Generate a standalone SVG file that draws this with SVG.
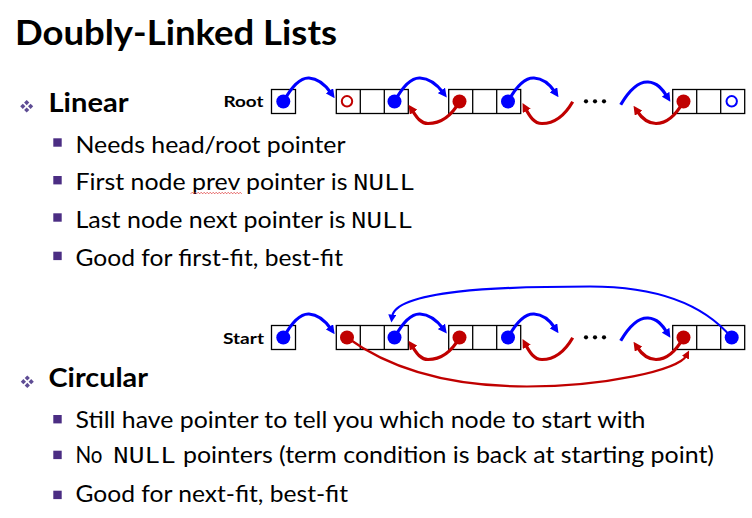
<svg xmlns="http://www.w3.org/2000/svg" width="752" height="518" viewBox="0 0 752 518">
  <style>
    .title { font-family: Lato, "Open Sans", sans-serif; font-weight: 700; font-size: 34px; fill: #000; }
    .head { font-family: Lato, "Open Sans", sans-serif; font-weight: 700; font-size: 26px; fill: #000; }
    .item { font-family: Lato, "Open Sans", sans-serif; font-size: 24px; fill: #000; }
    .mono { font-family: "Liberation Mono", "DejaVu Sans Mono", monospace; font-size: 24px; fill: #000; }
    .lbl { font-family: Lato, "Open Sans", sans-serif; font-weight: 700; font-size: 16px; fill: #000; }
    .cell { fill: #fff; stroke: #000; stroke-width: 1.3; }
    .bdot { fill: #0000ff; }
    .rdot { fill: #c00000; }
    .bring { fill: none; stroke: #0000ff; stroke-width: 2; }
    .rring { fill: none; stroke: #c00000; stroke-width: 2; }
    .sq { fill: #4b2d83; }
    .dia { fill: #5e4c94; }
    .ell { fill: #000; }
    .nextArc { fill: none; stroke: #0000ff; stroke-width: 3.2; marker-end: url(#ahBlue); }
    .prevArc { fill: none; stroke: #c00000; stroke-width: 3.2; marker-end: url(#ahRed); }
    .wrapB { fill: none; stroke: #0000ff; stroke-width: 2.2; marker-end: url(#ahBlueSm); }
    .wrapR { fill: none; stroke: #c00000; stroke-width: 2.2; marker-end: url(#ahRedSm); }
  </style>
  <defs>
    <marker id="ahBlue" viewBox="0 0 10 10" refX="3" refY="5" markerWidth="9" markerHeight="9" markerUnits="userSpaceOnUse" orient="auto">
      <path d="M0,0 L10,5 L0,10 z" fill="#0000ff"/>
    </marker>
    <marker id="ahRed" viewBox="0 0 10 10" refX="3" refY="5" markerWidth="9" markerHeight="9" markerUnits="userSpaceOnUse" orient="auto">
      <path d="M0,0 L10,5 L0,10 z" fill="#c00000"/>
    </marker>
    <marker id="ahBlueSm" viewBox="0 0 10 10" refX="3" refY="5" markerWidth="8" markerHeight="8" markerUnits="userSpaceOnUse" orient="auto">
      <path d="M0,0 L10,5 L0,10 z" fill="#0000ff"/>
    </marker>
    <marker id="ahRedSm" viewBox="0 0 10 10" refX="3" refY="5" markerWidth="8" markerHeight="8" markerUnits="userSpaceOnUse" orient="auto">
      <path d="M0,0 L10,5 L0,10 z" fill="#c00000"/>
    </marker>
    <!-- four-diamond bullet -->
    <g id="diamondBullet">
      <path class="dia" d="M0,-6.3 L2.6,-3.7 L0,-1.1 L-2.6,-3.7 z"/>
      <path class="dia" d="M-3.9,-2.6 L-1.3,0 L-3.9,2.6 L-6.5,0 z"/>
      <path class="dia" d="M3.9,-2.6 L6.5,0 L3.9,2.6 L1.3,0 z"/>
      <path class="dia" d="M0,1.1 L2.6,3.7 L0,6.3 L-2.6,3.7 z"/>
    </g>
    <!-- three-cell list node -->
    <g id="node3">
      <rect class="cell" x="0" y="0" width="72" height="24"/>
      <line x1="24" y1="0" x2="24" y2="24" stroke="#000" stroke-width="1.3"/>
      <line x1="48" y1="0" x2="48" y2="24" stroke="#000" stroke-width="1.3"/>
    </g>
  </defs>

  <rect width="752" height="518" fill="#fff"/>

  <!-- heading -->
  <text class="title" x="15" y="45" textLength="322" lengthAdjust="spacingAndGlyphs">Doubly-Linked Lists</text>

  <!-- Linear section text -->
  <g id="linear-text">
    <use href="#diamondBullet" x="26.7" y="106.3"/>
    <text class="head" x="48.5" y="111.7" textLength="80" lengthAdjust="spacingAndGlyphs">Linear</text>
    <rect class="sq" x="53.3" y="138.3" width="8.4" height="8.4"/>
    <text class="item" x="75.5" y="152.7" textLength="270" lengthAdjust="spacingAndGlyphs">Needs head/root pointer</text>
    <rect class="sq" x="53.3" y="176" width="8.4" height="8.4"/>
    <text class="item" x="75.5" y="190" textLength="272" lengthAdjust="spacingAndGlyphs">First node prev pointer is</text>
    <text class="mono" x="353" y="190" textLength="62" lengthAdjust="spacingAndGlyphs">NULL</text>
    <polyline points="190.7,193.8 192.2,192.3 193.7,193.8 195.2,192.3 196.7,193.8 198.2,192.3 199.7,193.8 201.2,192.3 202.7,193.8 204.2,192.3 205.7,193.8 207.2,192.3 208.7,193.8 210.2,192.3 211.7,193.8 213.2,192.3 214.7,193.8 216.2,192.3 217.7,193.8 219.2,192.3 220.7,193.8 222.2,192.3 223.7,193.8 225.2,192.3 226.7,193.8 228.2,192.3 229.7,193.8 231.2,192.3 232.7,193.8 234.2,192.3 235.7,193.8 237.2,192.3 238.7,193.8 240.2,192.3 241.7,193.8" fill="none" stroke="#e03c3c" stroke-width="0.8"/>
    <rect class="sq" x="53.3" y="213.3" width="8.4" height="8.4"/>
    <text class="item" x="75.5" y="227.7" textLength="270" lengthAdjust="spacingAndGlyphs">Last node next pointer is</text>
    <text class="mono" x="351" y="227.7" textLength="62" lengthAdjust="spacingAndGlyphs">NULL</text>
    <rect class="sq" x="53.3" y="251.7" width="8.4" height="8.4"/>
    <text class="item" x="75.5" y="265.7" textLength="267.5" lengthAdjust="spacingAndGlyphs">Good for first-fit, best-fit</text>
  </g>

  <!-- Circular section text -->
  <g id="circular-text">
    <use href="#diamondBullet" x="27.3" y="381.7"/>
    <text class="head" x="48.5" y="387.3" textLength="99.5" lengthAdjust="spacingAndGlyphs">Circular</text>
    <rect class="sq" x="53.3" y="415" width="8.4" height="8.4"/>
    <text class="item" x="75.5" y="427.7" textLength="570" lengthAdjust="spacingAndGlyphs">Still have pointer to tell you which node to start with</text>
    <rect class="sq" x="53.3" y="450.7" width="8.4" height="8.4"/>
    <text class="item" x="75.5" y="463.3" textLength="27" lengthAdjust="spacingAndGlyphs">No</text>
    <text class="mono" x="113" y="463.3" textLength="63" lengthAdjust="spacingAndGlyphs">NULL</text>
    <text class="item" x="183" y="463.3" textLength="531" lengthAdjust="spacingAndGlyphs">pointers (term condition is back at starting point)</text>
    <rect class="sq" x="53.3" y="490.7" width="8.4" height="8.4"/>
    <text class="item" x="75.5" y="502.3" textLength="272.5" lengthAdjust="spacingAndGlyphs">Good for next-fit, best-fit</text>
  </g>

  <!-- Linear list -->
  <g id="linear-list">
    <g id="lin-root">
      <text class="lbl" x="223.5" y="107.3" textLength="40" lengthAdjust="spacingAndGlyphs">Root</text>
      <rect class="cell" x="271.5" y="89.5" width="24" height="24"/>
      <circle class="bdot" cx="283.3" cy="101.5" r="7"/>
    </g>
    <g id="lin-node-1">
      <use href="#node3" x="336.3" y="89.5"/>
      <circle class="rring" cx="347" cy="101.3" r="5.2"/>
      <circle class="bdot" cx="394.5" cy="101.5" r="7"/>
    </g>
    <g id="lin-node-2">
      <use href="#node3" x="448.7" y="89.5"/>
      <circle class="rdot" cx="459.5" cy="101.5" r="7"/>
      <circle class="bdot" cx="508" cy="101.5" r="7"/>
    </g>
    <g id="lin-ellipsis">
      <circle class="ell" cx="586" cy="101.3" r="2.1"/>
      <circle class="ell" cx="595" cy="101.3" r="2.1"/>
      <circle class="ell" cx="604" cy="101.3" r="2.1"/>
    </g>
    <g id="lin-node-last">
      <use href="#node3" x="672.7" y="89.5"/>
      <circle class="rdot" cx="683.5" cy="101.5" r="7"/>
      <circle class="bring" cx="731.7" cy="101.3" r="5.2"/>
    </g>
  </g>

  <!-- Circular list -->
  <g id="circular-list">
    <g id="circ-start">
      <text class="lbl" x="223" y="344" textLength="41" lengthAdjust="spacingAndGlyphs">Start</text>
      <rect class="cell" x="271.5" y="325.5" width="24" height="24"/>
      <circle class="bdot" cx="283.3" cy="337.5" r="7"/>
    </g>
    <g id="circ-node-1">
      <use href="#node3" x="336.3" y="325.5"/>
      <circle class="rdot" cx="347" cy="337.5" r="7"/>
      <circle class="bdot" cx="394.5" cy="337.5" r="7"/>
    </g>
    <g id="circ-node-2">
      <use href="#node3" x="448.7" y="325.5"/>
      <circle class="rdot" cx="459.5" cy="337.5" r="7"/>
      <circle class="bdot" cx="508" cy="337.5" r="7"/>
    </g>
    <g id="circ-ellipsis">
      <circle class="ell" cx="586" cy="337.3" r="2.1"/>
      <circle class="ell" cx="595" cy="337.3" r="2.1"/>
      <circle class="ell" cx="604" cy="337.3" r="2.1"/>
    </g>
    <g id="circ-node-last">
      <use href="#node3" x="672.7" y="325.5"/>
      <circle class="rdot" cx="683.5" cy="337.5" r="7"/>
      <circle class="bdot" cx="731.7" cy="337.5" r="7"/>
    </g>
  </g>

  <!-- connectors -->
  <g id="connectors">
    <g id="linear-links">
      <path class="nextArc" d="M283.5,101.5 C292,86 300,77.5 309,78 C318,78.5 325,84.5 331,93"/>
      <path class="nextArc" d="M394.5,101.5 C403,86 411,77.5 420,78 C429,78.5 437,84.5 443,92.5"/>
      <path class="nextArc" d="M508,101.5 C516.5,86 525,77.5 534,78 C543,78.5 550,84.5 555,92"/>
      <path class="nextArc" d="M620.7,104.7 C630,89 639,81.5 648,82 C657,82.5 662,88.5 667,96.5"/>
      <path class="prevArc" d="M459.5,101.5 C452,115 441,123.5 428,123.5 C420,123.5 416,116 412,110"/>
      <path class="prevArc" d="M572.7,101.7 C565,115 555,123.5 542,123.5 C534,123.5 529.5,116 525.5,108.5"/>
      <path class="prevArc" d="M683.5,101.5 C676,115 667,123.5 656,123.5 C648,123.5 641,117 637,111"/>
    </g>
    <g id="circular-links" transform="translate(0,236)">
      <path class="nextArc" d="M283.5,101.5 C292,86 300,77.5 309,78 C318,78.5 325,84.5 331,93"/>
      <path class="nextArc" d="M394.5,101.5 C403,86 411,77.5 420,78 C429,78.5 437,84.5 443,92.5"/>
      <path class="nextArc" d="M508,101.5 C516.5,86 525,77.5 534,78 C543,78.5 550,84.5 555,92"/>
      <path class="nextArc" d="M620.7,104.7 C630,89 639,81.5 648,82 C657,82.5 662,88.5 667,96.5"/>
      <path class="prevArc" d="M459.5,101.5 C452,115 441,123.5 428,123.5 C420,123.5 416,116 412,110"/>
      <path class="prevArc" d="M572.7,101.7 C565,115 555,123.5 542,123.5 C534,123.5 529.5,116 525.5,108.5"/>
      <path class="prevArc" d="M683.5,101.5 C676,115 667,123.5 656,123.5 C648,123.5 641,117 637,111"/>
    </g>
    <path id="wrap-next" class="wrapB" d="M731.5,337.5 C700,300 650,286.5 590,286.5 C500,286.5 395,290 392,317"/>
    <path id="wrap-prev" class="wrapR" d="M347,337.5 C390,369 450,386.5 527,386.5 C605,386.5 679,370 686.5,355.5"/>
  </g>
</svg>
